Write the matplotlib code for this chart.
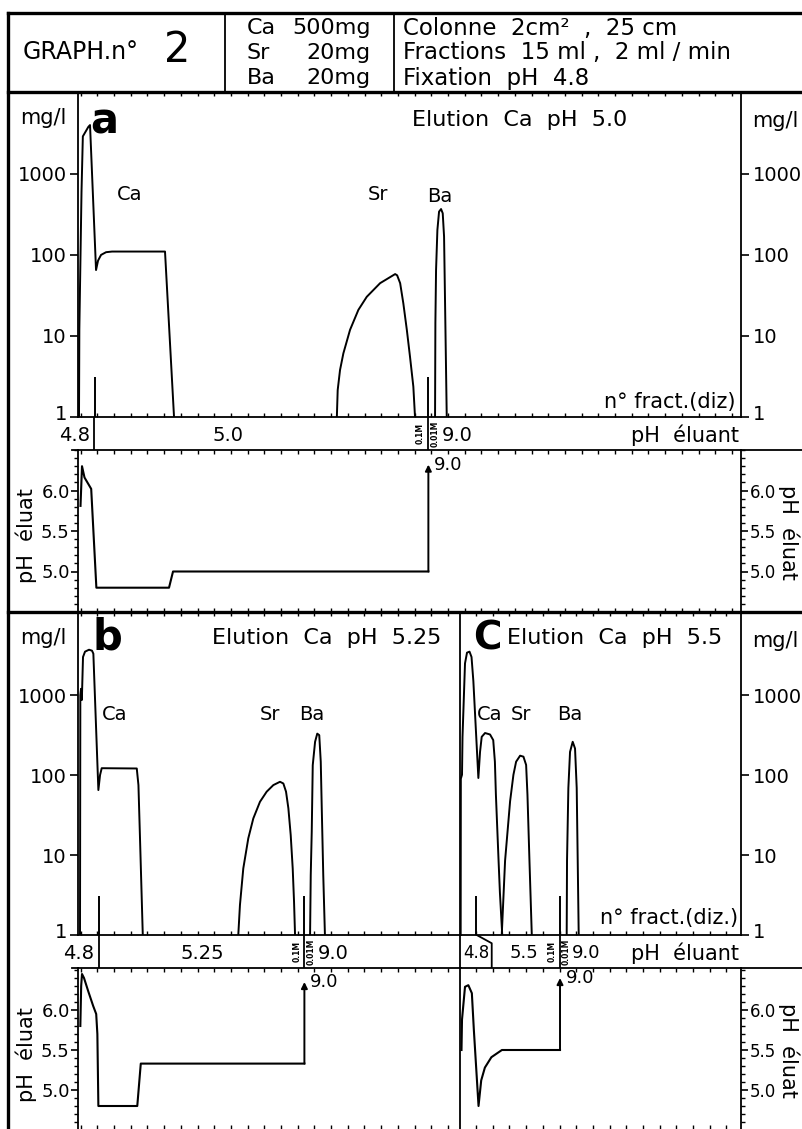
import numpy as np
import matplotlib
matplotlib.use('Agg')
import matplotlib.pyplot as plt
from matplotlib.lines import Line2D
from matplotlib.ticker import NullLocator, MultipleLocator
from matplotlib.transforms import ScaledTranslation

plt.rcParams['font.family'] = ['DejaVu Sans']
plt.rcParams['font.size'] = 14

W, H = 803, 1129

# x = n° fract. (diz), y = mg/l (log) or pH
# --- graph a : elution Ca pH 5.0
a_ca_x = [-0.10, -0.08, 0.05, 0.13, 0.46, 0.56, 0.92, 1.04, 1.22, 1.52, 1.88, 5.05, 5.59]
a_ca_y = [1, 12, 600, 2900, 3800, 4000, 65, 85, 100, 108, 110, 110, 1]
a_sr_x = [15.34, 15.39, 15.53, 15.73, 16.13, 16.63, 17.13, 17.93, 18.83, 18.95,
          19.13, 19.32, 19.53, 19.72, 19.92, 20.02]
a_sr_y = [1, 2.15, 3.8, 6.1, 11.9, 21, 30.4, 44.8, 58, 56, 44.8, 25.3, 11.9, 5.55, 2.37, 1]
a_ba_x = [21.22, 21.24, 21.28, 21.36, 21.46, 21.58, 21.68, 21.76, 21.82, 21.92]
a_ba_y = [1, 14.5, 65, 203, 342, 368, 326, 168, 25, 1]
a_marks = [0.86, 20.82]
a_ph_x = [-0.01, 0.08, 0.23, 0.63, 0.94, 5.29, 5.53, 20.82]
a_ph_y = [5.81, 6.30, 6.16, 6.02, 4.80, 4.80, 5.00, 5.00]
a_ph_top = 6.32

# --- graph b : elution Ca pH 5.25
b_ca_x = [-0.04, -0.02, 0.02, 0.07, 0.14, 0.26, 0.50, 0.68, 0.76, 1.06, 1.16, 1.26,
          3.36, 3.46, 3.56, 3.72]
b_ca_y = [1, 1000, 1200, 870, 3000, 3500, 3700, 3600, 3300, 65, 100, 122, 121, 75, 14.6, 1]
b_sr_x = [9.44, 9.54, 9.74, 10.04, 10.34, 10.74, 11.14, 11.54, 11.94, 12.14, 12.30,
          12.44, 12.58, 12.70, 12.78, 12.84]
b_sr_y = [1, 2.37, 6.8, 16.2, 28.7, 46.4, 62, 75, 82.5, 78.5, 62, 38.5, 17.8, 6.8, 2.6, 1]
b_ba_x = [13.74, 13.78, 13.84, 13.90, 14.04, 14.17, 14.29, 14.38, 14.44, 14.53, 14.63]
b_ba_y = [1, 5.6, 19.6, 133, 261, 330, 316, 147, 38.5, 5.6, 1]
b_marks = [1.12, 13.40]
b_ph_x = [-0.02, 0.03, 0.08, 0.20, 0.46, 0.75, 0.93, 1.00, 1.06, 3.39, 3.60, 13.40]
b_ph_y = [5.80, 6.30, 6.45, 6.40, 6.23, 6.05, 5.95, 5.70, 4.80, 4.80, 5.33, 5.33]
b_ph_top = 6.35

# --- graph c : elution Ca pH 5.5
c_ca_x = [0.08, 0.09, 0.16, 0.19, 0.34, 0.46, 0.61, 0.73, 0.84, 1.14, 1.24, 1.34, 1.54,
          1.84, 2.03, 2.13, 2.19, 2.27, 2.35, 2.43, 2.57]
c_ca_y = [1, 90, 101, 300, 2500, 3400, 3500, 3000, 1500, 92, 195, 301, 336, 322, 274,
          147, 57, 22, 8.5, 3.4, 1]
c_sr_x = [2.54, 2.74, 3.04, 3.24, 3.40, 3.64, 3.84, 4.00, 4.08, 4.14, 4.20, 4.34]
c_sr_y = [1, 8.5, 47, 101, 147, 175, 170, 134, 57, 22, 8.5, 1]
c_ba_x = [6.43, 6.45, 6.53, 6.63, 6.79, 6.93, 7.03, 7.09, 7.15]
c_ba_y = [1, 8.5, 69, 195, 261, 215, 69, 8.5, 1]
c_marks = [1.00, 6.03]
c_ph_x = [0.13, 0.16, 0.34, 0.54, 0.75, 0.87, 1.15, 1.31, 1.53, 1.92, 2.55, 6.03]
c_ph_y = [5.50, 5.88, 6.29, 6.31, 6.21, 5.75, 4.80, 5.12, 5.28, 5.41, 5.50, 5.50]
c_ph_top = 6.40

log_ticks = [1, 10, 100, 1000]
ph_ticks = [5.0, 5.5, 6.0]

head_elem = ['Ca', 'Sr', 'Ba']
head_mass = ['500mg', '20mg', '20mg']
head_cond = ['Colonne  2cm²  ,  25 cm', 'Fractions  15 ml ,  2 ml / min', 'Fixation  pH  4.8']

fig = plt.figure(figsize=(W / 100, H / 100), dpi=100)


def box(x0, y0, x1, y1):
    return fig.add_axes([x0 / W, 1 - y1 / H, (x1 - x0) / W, (y1 - y0) / H])


def hline(x0, x1, y, lw=2.4):
    fig.add_artist(Line2D([x0 / W, x1 / W], [1 - y / H, 1 - y / H], color='k', lw=lw))


def vline(x, y0, y1, lw=2.4):
    fig.add_artist(Line2D([x / W, x / W], [1 - y0 / H, 1 - y1 / H], color='k', lw=lw))


def put(x, y, s, **kw):
    kw.setdefault('va', 'center')
    fig.text(x / W, 1 - y / H, s, **kw)


def x_ticks(ax, xlim):
    ax.set_xlim(*xlim)
    ax.set_xticks(np.arange(np.ceil(xlim[0]), xlim[1]))
    ax.tick_params(axis='x', direction='in', length=3, width=1, top=True, bottom=True,
                   labelbottom=False)
    for s in ax.spines.values():
        s.set_linewidth(1.3)


def log_panel(ax, xlim, ytop, left=True, right=True):
    ax.set_yscale('log')
    ax.set_ylim(1, ytop)
    ax.set_yticks(log_ticks)
    ax.set_yticklabels([str(t) for t in log_ticks])
    ax.yaxis.set_minor_locator(NullLocator())
    ax.tick_params(axis='y', direction='out', length=6, width=1.2, pad=2, labelsize=14,
                   left=left, right=right, labelleft=left, labelright=right)
    x_ticks(ax, xlim)
    # the "1" sits a little above its tick, clear of the pH strip
    lift = ScaledTranslation(0, 0.05, fig.dpi_scale_trans)
    t1 = ax.yaxis.get_major_ticks()[0]
    t1.label1.set_transform(t1.label1.get_transform() + lift)
    t1.label2.set_transform(t1.label2.get_transform() + lift)


def ph_panel(ax, xlim, ylim, left=True, right=True):
    ax.set_ylim(*ylim)
    ax.set_yticks(ph_ticks)
    ax.set_yticklabels(['%.1f' % t for t in ph_ticks])
    ax.yaxis.set_minor_locator(MultipleLocator(0.1))
    ax.tick_params(axis='y', which='major', direction='out', length=5, width=1.2, pad=1,
                   labelsize=13, left=left, right=right, labelleft=left, labelright=right)
    ax.tick_params(axis='y', which='minor', direction='out', length=3, width=1,
                   left=left, right=right)
    if right:
        for t in ax.yaxis.get_major_ticks():
            t.label2.set_fontsize(12)
    x_ticks(ax, xlim)


def strip(xlim, y0, y1, x0, x1):
    ax = box(x0, y0, x1, y1)
    ax.set_xlim(*xlim)
    ax.set_ylim(0, 1)
    ax.axis('off')
    return ax


def peaks(ax, curves, marks):
    for xs, ys in curves:
        ax.plot(xs, ys, color='k', lw=1.4, solid_joinstyle='round')
    ax.vlines(marks, 1, 3.1, colors='k', lw=1.4)


def ph_curve(ax, xs, ys, top):
    ax.plot(xs, ys, color='k', lw=1.5)
    ax.annotate('', xy=(xs[-1], top), xytext=(xs[-1], ys[-1]),
                arrowprops=dict(arrowstyle='-|>', color='k', lw=1.4, mutation_scale=9,
                                shrinkA=0, shrinkB=0))
    ax.text(xs[-1] + 0.35, top, '9.0', fontsize=13, va='center', ha='left')


def molar(ax, x1, x2):
    ax.text(x1, 0.5, '0.1M', rotation=90, ha='center', va='center', fontsize=5.5, weight='bold')
    ax.text(x2, 0.5, '0.01M', rotation=90, ha='center', va='center', fontsize=5.5, weight='bold')


# ---------------- graph a
xa = (-0.16, 39.57)
axA = box(78, 92, 741.5, 417)
log_panel(axA, xa, 10 ** 4.01)
peaks(axA, [(a_ca_x, a_ca_y), (a_sr_x, a_sr_y), (a_ba_x, a_ba_y)], a_marks)

stA = strip(xa, 417, 450, 78, 741.5)
stA.axvline(a_marks[0] - 0.06, color='k', lw=1.3)
stA.axvline(a_marks[1], color='k', lw=1.3)
stA.text(-0.34, 0.45, '4.8', ha='center', va='center', fontsize=14, clip_on=False)
stA.text(8.83, 0.45, '5.0', ha='center', va='center', fontsize=14)
molar(stA, 20.35, 21.22)
stA.text(21.6, 0.45, '9.0', ha='left', va='center', fontsize=14)
stA.text(39.45, 0.45, 'pH  éluant', ha='right', va='center', fontsize=15)

phA = box(78, 450, 741.5, 612)
ph_panel(phA, xa, (4.5, 6.5))
ph_curve(phA, a_ph_x, a_ph_y, a_ph_top)

# ---------------- graphs b and c
xb = (-0.16, 22.75)
xc = (0.07, 16.9)
axB = box(78, 612, 460.5, 935)
log_panel(axB, xb, 10 ** 4.04, right=False)
peaks(axB, [(b_ca_x, b_ca_y), (b_sr_x, b_sr_y), (b_ba_x, b_ba_y)], b_marks)
axC = box(460.5, 612, 741.5, 935)
log_panel(axC, xc, 10 ** 4.04, left=False)
peaks(axC, [(c_ca_x, c_ca_y), (c_sr_x, c_sr_y), (c_ba_x, c_ba_y)], c_marks)

stB = strip(xb, 935, 968, 78, 460.5)
stB.axvline(b_marks[0], color='k', lw=1.3)
stB.axvline(b_marks[1], color='k', lw=1.3)
stB.text(-0.1, 0.45, '4.8', ha='center', va='center', fontsize=14, clip_on=False)
stB.text(7.27, 0.45, '5.25', ha='center', va='center', fontsize=14)
molar(stB, 12.96, 13.8)
stB.text(14.2, 0.45, '9.0', ha='left', va='center', fontsize=14)

stC = strip(xc, 935, 968, 460.5, 741.5)
stC.plot([1.04, 1.94, 1.94], [1, 0.75, 0], color='k', lw=1.3)
stC.axvline(c_marks[1], color='k', lw=1.3)
stC.text(1.05, 0.45, '4.8', ha='center', va='center', fontsize=12)
stC.text(3.87, 0.45, '5.5', ha='center', va='center', fontsize=13)
molar(stC, 5.55, 6.42)
stC.text(6.72, 0.45, '9.0', ha='left', va='center', fontsize=13)
stC.text(16.75, 0.45, 'pH  éluant', ha='right', va='center', fontsize=15)

phB = box(78, 968, 460.5, 1129)
ph_panel(phB, xb, (4.5125, 6.525), right=False)
ph_curve(phB, b_ph_x, b_ph_y, b_ph_top)
phC = box(460.5, 968, 741.5, 1129)
ph_panel(phC, xc, (4.5125, 6.525), left=False)
ph_curve(phC, c_ph_x, c_ph_y, c_ph_top)
for ax in (phB, phC):
    ax.spines['bottom'].set_visible(False)

# ---------------- frame
hline(8, 803, 13)
hline(8, 803, 92)
hline(8, 803, 612)
vline(8, 13, 1129)
vline(225, 13, 92, lw=1.3)
vline(394, 13, 92, lw=1.3)
hline(741.5, 803, 450, lw=1.3)
hline(741.5, 803, 968, lw=1.3)
hline(72, 78, 450, lw=1.3)
hline(72, 78, 968, lw=1.3)
vline(460.5, 935, 968, lw=1.3)

# ---------------- header
put(23, 52, 'GRAPH.n°', fontsize=17)
put(164, 50, '2', fontsize=30)
for i, (el, ms, cd) in enumerate(zip(head_elem, head_mass, head_cond)):
    y = 28 + 25 * i
    put(247, y, el, fontsize=16)
    put(371, y, ms, fontsize=16, ha='right')
    put(403, y, cd, fontsize=16.5)

# ---------------- panel texts
for y0 in (118, 638):
    put(20, y0, 'mg/l', fontsize=15)
    put(752, y0 + 3, 'mg/l', fontsize=15)
put(90, 122, 'a', fontsize=30, weight='bold')
put(93, 638, 'b', fontsize=30, weight='bold')
put(473, 638, 'C', fontsize=28, weight='bold')
put(412, 120, 'Elution  Ca  pH  5.0', fontsize=16)
put(212, 638, 'Elution  Ca  pH  5.25', fontsize=16)
put(507, 638, 'Elution  Ca  pH  5.5', fontsize=16)

for x, y, s in [(130, 195, 'Ca'), (378, 195, 'Sr'), (440, 197, 'Ba'),
                (115, 715, 'Ca'), (270, 715, 'Sr'), (312, 715, 'Ba'),
                (490, 715, 'Ca'), (521, 715, 'Sr'), (570, 715, 'Ba')]:
    put(x, y, s, fontsize=14, ha='center')

put(736, 402, 'n° fract.(diz)', fontsize=15, ha='right')
put(738, 918, 'n° fract.(diz.)', fontsize=15, ha='right')

put(26, 536, 'pH  éluat', fontsize=15, rotation=90, ha='center')
put(26, 1055, 'pH  éluat', fontsize=15, rotation=90, ha='center')
put(789, 532, 'pH  éluat', fontsize=15, rotation=270, ha='center')
put(789, 1050, 'pH  éluat', fontsize=15, rotation=270, ha='center')

fig.savefig('out.png', dpi=100)
